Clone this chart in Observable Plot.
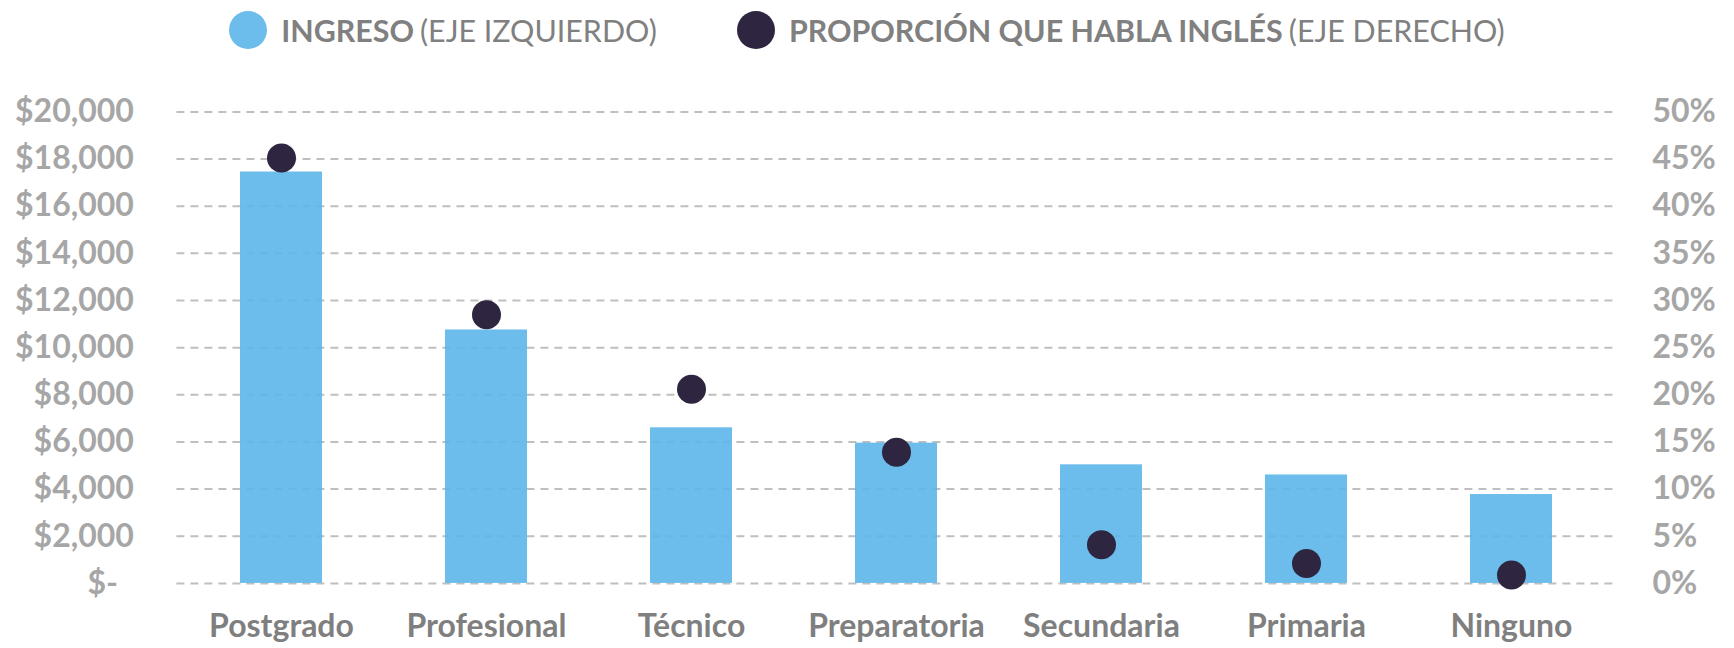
<!DOCTYPE html>
<html><head><meta charset="utf-8">
<script src="https://cdn.jsdelivr.net/npm/d3@7"></script>
<script src="https://cdn.jsdelivr.net/npm/@observablehq/plot@0.6"></script>
<style>
body{margin:0;background:#fff;font-family:Lato,sans-serif;width:1734px;height:648px;overflow:hidden}
#legend{height:60px;display:flex;justify-content:center;align-items:center;gap:80px;font-size:30.4px;color:#808080;white-space:nowrap}
.item{display:flex;align-items:center}
.sw{width:38px;height:38px;border-radius:50%;margin-right:14px;display:inline-block}
.item b{font-weight:700}
.item span.r{font-weight:400;margin-left:6px}
#chart svg{display:block}
</style></head><body>
<div id="legend">
  <div class="item"><span class="sw" style="background:#6cbdec"></span><b>INGRESO</b><span class="r">(EJE IZQUIERDO)</span></div>
  <div class="item"><span class="sw" style="background:#2e2640"></span><b>PROPORCIÓN QUE HABLA INGLÉS</b><span class="r">(EJE DERECHO)</span></div>
</div>
<div id="chart"></div>
<script>
const categories = ["Postgrado","Profesional","Técnico","Preparatoria","Secundaria","Primaria","Ninguno"];
const ingreso = [17450, 10750, 6600, 5950, 5030, 4600, 3770];
const inglesPct = [45.1, 28.5, 20.6, 13.9, 4.1, 2.1, 0.9];
const leftTicks = [0,2000,4000,6000,8000,10000,12000,14000,16000,18000,20000];
const rightTicksPct = [0,5,10,15,20,25,30,35,40,45,50];

const pctToY = 20000 / 50; // 50% on right axis aligns with $20,000 on left
const data = categories.map((c, i) => ({cat: c, ingreso: ingreso[i], ingles: inglesPct[i] * pctToY}));

const chart = Plot.plot({
  width: 1734, height: 588,
  marginLeft: 176.4, marginRight: 119.1, marginTop: 51.4, marginBottom: 65.1,
  x: {domain: categories, paddingInner: 0.6, paddingOuter: 0.3, label: null},
  y: {domain: [0, 20000], label: null},
  style: {fontFamily: "Lato, sans-serif", fontSize: "32px", background: "white"},
  marks: [
    Plot.gridY(leftTicks, {stroke: "#bfbfbf", strokeOpacity: 1, strokeWidth: 2, strokeDasharray: "8,6"}),
    Plot.barY(data, {x: "cat", y: "ingreso", fill: "#5cb6ea", fillOpacity: 0.9}),
    Plot.dot(data, {x: "cat", y: "ingles", r: 14.5, fill: "#2e2640", stroke: "none"}),
    Plot.axisY(leftTicks, {anchor: "left", tickSize: 0, tickPadding: 43, color: "#a6a6a6", fontWeight: "bold",
      tickFormat: d => d === 0 ? "$-\u2002" : "$" + d3.format(",")(d)}),
    Plot.axisY(rightTicksPct.map(p => p * pctToY), {anchor: "right", tickSize: 0, tickPadding: 37, color: "#a6a6a6", fontWeight: "bold",
      tickFormat: d => Math.round(d / pctToY) + "%"}),
    Plot.axisX({tickSize: 0, tickPadding: 31, color: "#7f7f7f", fontWeight: "bold", label: null})
  ]
});
document.getElementById("chart").appendChild(chart);
</script>
</body></html>
